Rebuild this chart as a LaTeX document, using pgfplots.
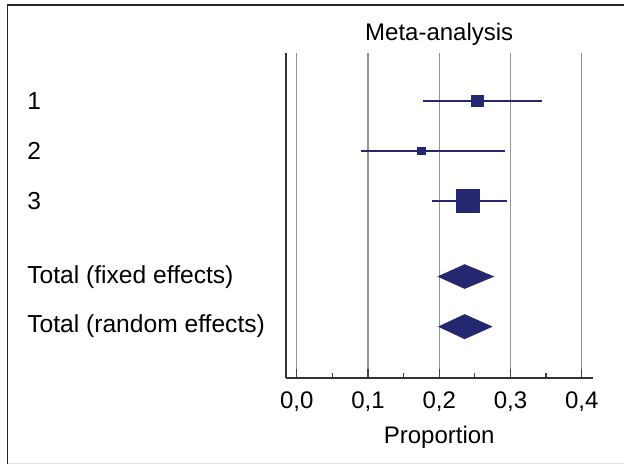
\documentclass[border=0pt]{standalone}
\usepackage{fontspec}
\setmainfont{Liberation Sans}
\usepackage{pgfplots}
\pgfplotsset{compat=1.18}
\definecolor{navy}{RGB}{37,39,112}
\begin{document}
\begin{tikzpicture}[font=\fontsize{12}{14.4}\selectfont]
\begin{axis}[
  at={(142.85pt,-189pt)}, anchor=south west,
  scale only axis, width=153.5pt, height=162.5pt,
  xmin=-0.01544, xmax=0.41544, ymin=-6.535, ymax=-0.048,
  axis lines=left, axis line style={-},
  x axis line style={line width=0.8pt, black!80},
  y axis line style={line width=1.1pt, black!80},
  xtick={0,0.1,0.2,0.3,0.4},
  minor x tick num=1,
  tick align=inside,
  major tick length=4.5pt, minor tick length=2.5pt,
  xmajorgrids, major x grid style={black!42, line width=0.6pt},
  x tick style={black!75, line width=0.6pt},
  /pgf/number format/fixed, /pgf/number format/fixed zerofill,
  /pgf/number format/precision=1, /pgf/number format/use comma,
  /pgf/number format/assume math mode=true,
  xticklabel style={anchor=base, yshift=-15.15pt},
  ytick={-5.46,-4.47,-2.99,-2.0,-1.0},
  yticklabels={Total (random effects),Total (fixed effects),3,2,1},
  y tick style={draw=none},
  yticklabel style={font=\fontsize{12.3}{14.4}\selectfont, anchor=base west, inner sep=0pt, xshift=-129.35pt, yshift=-4.4pt},
  clip=false,
]
% study CIs
\addplot[navy, line width=0.9pt] coordinates {(0.177,-1) (0.344,-1)};
\addplot[navy, line width=0.9pt] coordinates {(0.090,-2) (0.292,-2)};
\addplot[navy, line width=0.9pt] coordinates {(0.190,-3) (0.295,-3)};
% point estimates
\addplot[navy, only marks, mark=square*, mark size=2.9pt, mark options={line width=0.2pt}] coordinates {(0.253,-1)};
\addplot[navy, only marks, mark=square*, mark size=1.9pt, mark options={line width=0.2pt}] coordinates {(0.175,-2)};
\addplot[navy, only marks, mark=square*, mark size=5.7pt, mark options={line width=0.2pt}] coordinates {(0.2395,-3)};
% pooled diamonds
\addplot[fill=navy, draw=none] coordinates {(0.1974,-4.51) (0.2357,-4.264) (0.2774,-4.51) (0.2357,-4.756)} -- cycle;
\addplot[fill=navy, draw=none] coordinates {(0.1983,-5.51) (0.2357,-5.26) (0.2750,-5.51) (0.2357,-5.76)} -- cycle;
\node[anchor=base] at (rel axis cs:0.5,1) [yshift=6pt] {Meta-analysis};
\node[anchor=base] at (rel axis cs:0.5,0) [yshift=-32.65pt] {Proportion};
\end{axis}
\draw[line width=0.85pt, black!85] (3.75pt,-232pt) -- (3.75pt,-2.5pt) -- (312pt,-2.5pt);
\draw[black!12, line width=0.5pt] (3.75pt,-231.5pt) -- (312pt,-231.5pt);
\pgfresetboundingbox
\useasboundingbox (0,0) rectangle (312pt,-232pt);
\end{tikzpicture}
\end{document}
